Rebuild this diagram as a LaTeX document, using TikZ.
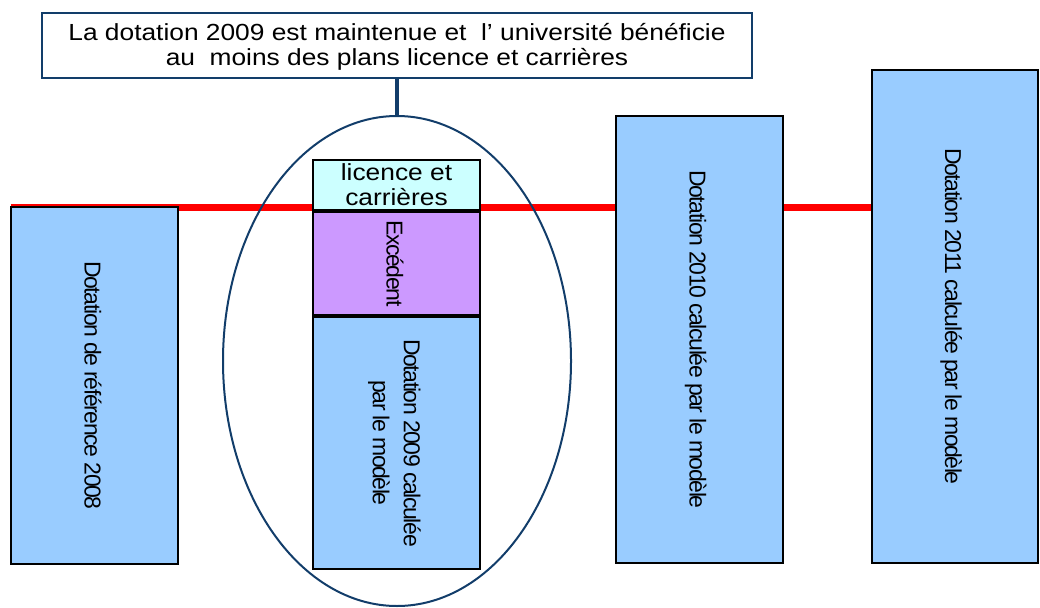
\documentclass[tikz,border=0pt]{standalone}
\usepackage{fontspec}
\setmainfont{Liberation Sans}
\newfontfamily\tightfont[LetterSpace=-6]{Liberation Sans}
\usetikzlibrary{shapes.geometric,backgrounds}

\definecolor{barblue}{HTML}{99CCFF}
\definecolor{plancyan}{HTML}{CCFFFF}
\definecolor{excmauve}{HTML}{CC99FF}
\definecolor{navyline}{HTML}{123D6A}

% horizontal and turned labels, set like the original slide
\newcommand{\hlabel}[2]{\raisebox{-3pt}[\height][\depth]{\scalebox{1.13}[1]{\fontsize{23.3}{#1}\selectfont\begin{tabular}{@{}c@{}}#2\end{tabular}}}}
\newcommand{\vlabel}[3][-5pt]{\rotatebox{-90}{\raisebox{#1}[\height][\depth]{\tightfont\fontsize{23}{#2}\selectfont\begin{tabular}{@{}c@{}}#3\end{tabular}}}}

\begin{document}
\begin{tikzpicture}[x=1pt, y=-1pt,
		bar/.style={draw=black, line width=2pt, fill=barblue, inner sep=0pt, minimum width=167pt},
		note/.style={draw=navyline, line width=2pt, fill=white, inner sep=0pt},
		scope ring/.style={draw=navyline, line width=2pt, ellipse, inner sep=0pt},
		seuil line/.style={draw=red, line width=7pt},
		link/.style={draw=navyline, line width=3.5pt}]
		%%%%% START %%%%%
		\useasboundingbox (0, 0) rectangle (1040, 607);
		
		\node[bar, minimum height=357pt] (ref2008) at (94.4, 385.5) {\vlabel{24}{Dotation de référence 2008}};
		\node[bar, minimum height=447pt] (dot2010) at (699.5, 339.5) {\vlabel{24}{Dotation 2010 calculée par le modèle}};
		\node[bar, minimum height=493pt, minimum width=166pt] (dot2011) at (955, 316.5) {\vlabel{24}{Dotation 2011 calculée par le modèle}};
		
		% 2009 : plans + excedent + dotation
		\node[bar, fill=plancyan, minimum height=46pt] (plans) at (396.5, 185) {\hlabel{25}{licence et\\carrières}};
		\node[bar, fill=excmauve, minimum height=103pt, anchor=north] (excedent) at (plans.south) {\vlabel{24}{Excédent}};
		\node[bar, minimum height=252pt, anchor=north] (dot2009) at (excedent.south) {\vlabel[-2pt]{31}{Dotation 2009 calculée\\par le modèle}};
		
		% seuil 2008, behind the bars
		\coordinate (seuil) at (10.7, 207.5);
		\begin{scope}[on background layer]
			\draw[seuil line] (seuil) -- (seuil -| dot2011.west);
		\end{scope}
		
		\node[scope ring, minimum width=348pt, minimum height=490pt] (ring) at (397, 361) {};
		
		\node[note, minimum width=710pt, minimum height=65pt] (maintien) at (397, 45.2)
			{\hlabel{25}{La dotation 2009 est maintenue et \ l’ université bénéficie\\au \ moins des plans licence et carrières}};
		\draw[link] (ring.north |- maintien.south) -- (ring.north);
		
		%%%%% END %%%%%
\end{tikzpicture}
\end{document}
